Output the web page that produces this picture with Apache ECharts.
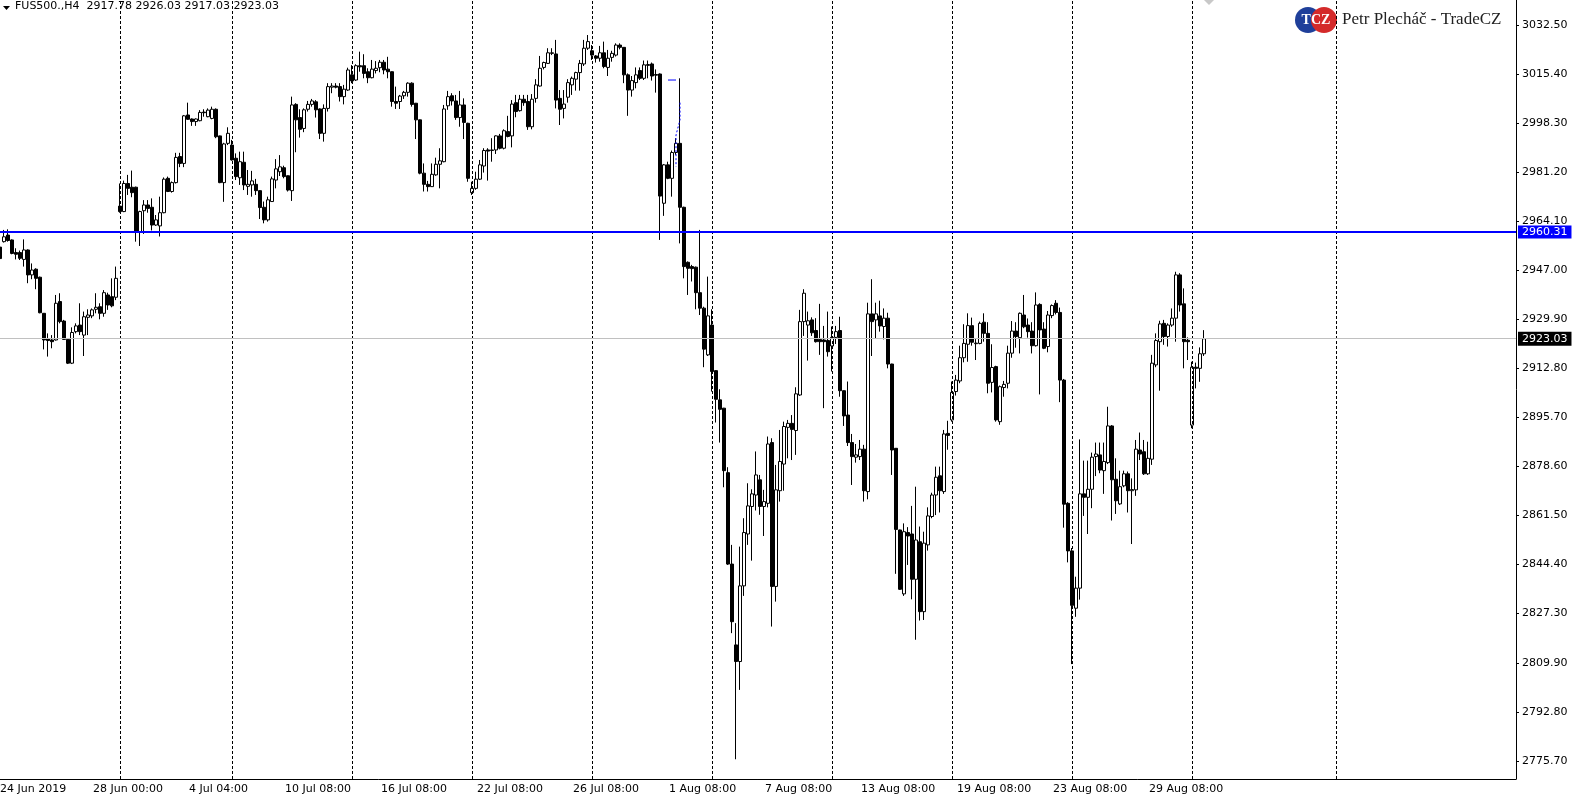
<!DOCTYPE html>
<html><head><meta charset="utf-8">
<script src="https://cdn.jsdelivr.net/npm/echarts@6/dist/echarts.min.js"></script>
<style>html,body{margin:0;padding:0;background:#fff;overflow:hidden}#c{width:1579px;height:803px}</style>
</head><body><div id="c"></div>
<script>
// ---- data (FUS500., H4) ----
const open = [
2955.0,2956.9,2959.2,2957.5,2953.1,2953.1,2950.7,2954.0,2945.3,2947.3,
2944.5,2931.9,2923.0,2922.6,2922.6,2936.0,2929.2,2922.8,2914.5,2925.5,
2927.8,2924.3,2930.5,2931.0,2933.3,2934.2,2931.9,2938.3,2937.7,2937.5,
2969.3,2967.4,2977.2,2975.9,2975.9,2960.4,2967.7,2969.7,2968.9,2962.7,
2962.4,2967.0,2979.0,2974.4,2977.5,2986.6,2984.2,3001.1,2999.7,2998.8,
2999.1,3002.1,3000.5,2999.9,3003.1,2993.8,2977.5,2991.2,2990.6,2986.0,
2979.2,2984.6,2976.2,2976.7,2976.9,2974.7,2968.9,2964.5,2970.9,2978.4,
2981.3,2982.7,2979.9,2974.7,3004.8,3000.2,2996.4,3003.1,3004.8,3005.7,
3003.2,2994.7,3003.4,3010.8,3011.2,3011.0,3007.5,3009.8,3015.1,3013.3,
3018.3,3018.3,3016.2,3014.1,3016.6,3017.6,3019.5,3017.1,3016.2,3005.8,
3005.8,3007.8,3009.0,3012.2,3005.2,2999.4,2980.8,2976.9,2976.1,2980.2,
2983.9,2984.8,3004.3,3007.8,3006.0,3000.2,3004.6,2998.2,2974.0,2975.5,
2978.7,2983.3,2988.9,2988.7,2988.9,2993.8,2989.5,2995.3,2993.8,3005.4,
3002.6,3006.6,3005.8,2997.0,3006.9,3011.2,3017.7,3019.1,3022.6,3022.4,
3006.9,3003.4,3007.3,3011.6,3013.6,3015.9,3018.9,3024.4,3023.5,3021.7,
3020.9,3022.8,3017.7,3021.2,3022.0,3025.5,3024.7,3015.1,3009.8,3012.4,
3016.6,3013.9,3018.4,3018.9,3015.2,3015.4,2970.3,2983.7,2979.0,2988.0,
2991.2,2968.9,2949.7,2948.2,2948.0,2939.1,2933.7,2917.4,2927.8,2911.9,
2901.7,2898.8,2876.3,2844.4,2816.2,2810.4,2836.8,2854.9,2864.5,2868.5,
2873.8,2864.5,2865.6,2886.8,2836.6,2870.0,2879.3,2892.1,2893.5,2891.0,
2903.4,2929.0,2927.8,2929.6,2925.9,2922.8,2922.6,2922.4,2920.5,2923.5,
2925.9,2904.9,2896.4,2886.8,2881.7,2881.9,2884.5,2869.7,2931.7,2929.6,
2931.0,2927.3,2930.2,2914.2,2884.8,2856.3,2834.0,2855.4,2854.9,2839.1,
2852.2,2827.8,2851.1,2861.0,2868.5,2875.2,2869.7,2890.0,2894.7,2904.6,
2908.3,2916.4,2921.1,2927.6,2921.3,2921.4,2928.8,2924.9,2907.8,2913.3,
2894.1,2906.0,2907.5,2918.0,2925.7,2923.4,2931.3,2927.8,2925.7,2920.6,
2935.0,2926.4,2920.3,2931.1,2935.4,2932.2,2908.6,2865.6,2849.0,2829.0,
2836.0,2868.9,2867.7,2870.5,2881.9,2882.5,2877.0,2879.8,2892.6,2874.0,
2865.4,2871.7,2875.9,2870.0,2870.3,2884.2,2883.6,2875.9,2881.0,2913.9,
2922.0,2928.4,2923.8,2927.8,2930.2,2945.3,2935.2,2922.5,2892.9,2913.1,
2912.7,2917.78
];
const high = [
2956.3,2961.0,2961.2,2957.7,2954.6,2953.8,2957.7,2954.2,2949.3,2947.6,
2944.7,2932.0,2924.9,2924.3,2938.3,2938.9,2929.6,2922.9,2927.0,2928.4,
2935.4,2932.5,2933.3,2933.6,2938.9,2935.4,2940.0,2939.1,2944.1,2948.2,
2977.2,2978.2,2980.2,2981.7,2976.1,2967.7,2971.4,2971.4,2972.0,2966.2,
2972.6,2979.3,2979.6,2977.9,2987.9,2987.9,3001.1,3005.4,2999.9,2999.9,
3002.8,3003.1,3003.4,3004.0,3003.4,2993.9,2991.4,2996.8,2992.4,2987.7,
2988.3,2988.3,2981.9,2981.6,2978.8,2974.8,2970.9,2972.6,2979.6,2985.7,
2987.1,2983.4,2980.0,3007.5,3005.2,3003.1,3003.4,3006.0,3006.7,3006.3,
3003.4,3004.8,3012.2,3012.2,3012.2,3012.2,3011.6,3017.6,3018.5,3018.8,
3023.2,3022.3,3017.4,3020.3,3019.9,3020.3,3020.3,3021.4,3016.3,3011.0,
3008.1,3009.5,3012.5,3012.5,3005.3,2999.5,2984.2,2978.1,2984.2,2986.2,
2989.5,3004.6,3009.5,3008.7,3008.1,3009.5,3006.9,2998.4,2977.8,2981.3,
2985.4,2989.5,2989.5,2993.0,2994.0,2994.5,2996.1,3000.8,3006.3,3008.1,
3008.1,3008.1,3008.1,3008.4,3013.6,3021.7,3019.7,3024.4,3024.4,3027.3,
3009.8,3009.8,3013.6,3014.5,3016.2,3020.3,3027.3,3029.0,3025.5,3022.0,
3025.2,3026.7,3023.8,3023.5,3026.1,3026.1,3024.8,3015.6,3014.7,3017.7,
3017.7,3020.1,3020.1,3019.4,3017.0,3015.6,2984.0,2984.8,2988.7,2993.0,
3013.9,2969.1,2950.0,2948.8,2948.2,2961.0,2934.2,2944.7,2933.3,2912.0,
2905.4,2898.9,2878.2,2851.1,2823.8,2850.5,2860.4,2872.6,2870.5,2883.7,
2875.5,2870.3,2888.9,2888.3,2879.0,2891.2,2894.1,2894.7,2896.4,2906.1,
2933.1,2940.3,2932.5,2930.5,2930.2,2935.2,2927.5,2932.5,2927.3,2927.5,
2930.7,2905.0,2908.1,2889.8,2886.3,2887.7,2886.0,2935.6,2943.8,2935.6,
2936.3,2933.6,2932.1,2914.3,2884.9,2856.4,2858.6,2857.3,2864.7,2871.4,
2857.5,2855.7,2864.2,2869.3,2878.4,2878.4,2891.2,2894.4,2908.1,2910.4,
2920.6,2928.1,2931.9,2930.4,2922.9,2929.0,2931.9,2928.8,2921.1,2913.6,
2906.7,2908.3,2920.6,2929.2,2928.8,2932.2,2938.3,2930.1,2928.8,2939.2,
2935.4,2928.8,2932.7,2935.0,2936.5,2933.9,2909.0,2866.0,2850.0,2840.0,
2887.9,2880.5,2880.5,2883.3,2886.8,2886.8,2886.8,2899.3,2892.9,2881.3,
2877.0,2877.0,2876.7,2874.3,2887.7,2890.3,2887.7,2887.1,2917.4,2924.9,
2929.3,2929.6,2928.4,2933.6,2946.4,2945.9,2940.6,2923.5,2915.0,2914.7,
2920.0,2926.03
];
const low = [
2947.6,2956.6,2956.9,2952.5,2950.7,2950.5,2948.2,2942.4,2943.8,2940.3,
2931.9,2919.3,2916.8,2919.7,2922.4,2928.4,2922.6,2914.2,2914.2,2924.9,
2924.3,2917.0,2924.3,2930.2,2931.9,2929.8,2930.7,2933.1,2934.0,2936.5,
2967.0,2967.2,2973.2,2972.4,2956.9,2955.4,2959.6,2967.0,2960.8,2962.4,
2958.7,2966.8,2974.2,2974.0,2977.2,2982.9,2982.9,2999.4,2997.3,2997.3,
2998.9,3000.5,3000.3,2999.6,2993.0,2977.3,2970.8,2990.6,2985.2,2978.4,
2976.7,2974.9,2973.2,2972.6,2973.2,2964.8,2963.3,2963.9,2970.8,2975.5,
2979.8,2979.0,2974.4,2971.1,2988.1,2993.2,2995.1,3002.3,3004.0,3000.2,
2992.7,2991.8,3002.3,3008.7,3010.4,3005.8,3004.8,3009.5,3012.2,3013.0,
3016.2,3013.9,3012.2,3013.9,3015.6,3016.0,3015.3,3013.9,3004.0,3003.2,
3003.2,3006.7,3007.5,3004.0,2992.7,2980.4,2974.4,2974.4,2976.0,2979.9,
2975.5,2984.6,3002.9,3004.4,2999.4,2997.0,2992.7,2977.8,2973.2,2975.0,
2978.4,2981.0,2978.2,2984.8,2987.5,2989.1,2989.1,2993.3,2989.8,3000.3,
3002.3,3004.3,2995.9,2996.1,3005.4,3011.0,3017.0,3018.9,3022.0,3003.4,
2997.6,2999.9,3005.4,3008.1,3009.6,3009.6,3018.2,3023.8,3020.3,3019.4,
3019.7,3017.4,3014.7,3019.7,3021.5,3024.0,3012.2,3000.8,3007.5,3010.4,
3013.3,3013.3,3013.9,3013.1,3008.9,2957.5,2965.9,2978.7,2972.6,2987.2,
2956.3,2944.1,2938.3,2943.0,2933.3,2931.3,2913.1,2917.0,2904.6,2893.8,
2886.8,2871.2,2844.1,2820.3,2776.3,2800.5,2833.3,2851.1,2845.6,2863.1,
2861.6,2854.2,2864.2,2822.6,2831.3,2866.2,2870.0,2881.3,2880.7,2882.5,
2903.1,2924.0,2915.4,2924.0,2921.7,2917.4,2898.8,2916.8,2911.6,2921.2,
2902.8,2892.6,2885.6,2872.0,2879.8,2880.7,2866.2,2867.0,2917.0,2923.2,
2925.5,2922.8,2912.7,2875.5,2841.0,2835.4,2833.3,2844.1,2832.1,2818.0,
2824.7,2824.9,2849.1,2860.4,2861.5,2862.4,2868.9,2884.3,2894.1,2903.2,
2907.5,2914.8,2915.0,2920.6,2915.6,2921.1,2922.0,2904.0,2904.3,2894.1,
2893.0,2902.8,2905.7,2916.4,2919.9,2917.9,2926.7,2923.4,2917.9,2920.3,
2903.6,2919.4,2918.3,2930.2,2931.5,2900.9,2857.1,2845.0,2809.5,2826.0,
2832.0,2861.2,2854.9,2863.9,2875.1,2876.1,2868.9,2879.3,2859.6,2861.9,
2865.0,2871.2,2862.4,2851.4,2868.2,2880.7,2875.5,2875.5,2879.0,2913.1,
2904.9,2920.9,2920.3,2927.2,2922.0,2932.5,2912.7,2915.6,2891.8,2905.7,
2908.0,2917.03
];
const close = [
2951.0,2958.6,2957.3,2952.8,2952.5,2951.1,2954.0,2945.3,2947.0,2944.1,
2932.1,2922.6,2922.4,2922.0,2935.4,2929.0,2922.8,2914.5,2925.2,2927.5,
2925.5,2930.7,2931.3,2933.1,2934.0,2931.9,2939.1,2934.8,2934.5,2944.1,
2967.4,2977.2,2975.5,2974.0,2960.4,2967.4,2969.7,2968.5,2962.7,2964.5,
2967.0,2978.7,2974.4,2977.5,2986.3,2984.2,3000.8,2999.6,2998.8,2999.7,
3002.0,3001.9,3002.8,3003.1,2993.5,2977.5,2991.0,2994.7,2985.4,2979.6,
2984.8,2976.7,2976.9,2978.1,2974.7,2968.8,2964.5,2971.5,2978.8,2982.3,
2983.0,2979.6,2974.9,3004.6,2999.4,2996.1,3002.9,3004.8,3006.0,3002.9,
2994.7,3003.4,3011.0,3011.2,3010.8,3007.5,3010.1,3016.8,3013.0,3018.3,
3017.9,3015.6,3014.1,3017.1,3017.4,3019.5,3016.8,3016.2,3005.8,3005.2,
3007.7,3009.0,3012.2,3004.8,2999.4,2980.8,2976.9,2976.1,2980.4,2983.9,
2985.1,3003.2,3007.5,3006.0,3000.2,3004.6,2998.5,2979.0,2975.5,2978.7,
2983.7,2988.7,2988.5,2988.9,2993.8,2989.5,2995.6,2993.6,3004.9,3002.3,
3006.6,3005.4,2997.0,3006.6,3011.6,3017.4,3019.4,3022.8,3022.8,3006.3,
3003.1,3004.9,3012.4,3013.9,3015.9,3019.1,3024.4,3026.7,3022.0,3020.9,
3022.8,3018.0,3020.9,3022.6,3025.5,3024.7,3015.1,3009.8,3013.1,3015.1,
3013.9,3018.6,3018.7,3014.7,3015.0,2972.8,2983.7,2979.0,2988.0,2991.2,
2968.9,2948.2,2947.6,2947.5,2939.1,2933.7,2919.4,2931.0,2911.6,2901.9,
2898.4,2877.0,2844.4,2824.3,2810.4,2836.8,2855.4,2864.7,2868.9,2875.5,
2864.5,2866.2,2886.3,2836.6,2870.3,2880.2,2892.4,2893.5,2891.4,2903.8,
2929.0,2938.9,2929.3,2925.1,2922.0,2922.0,2922.0,2918.5,2923.5,2925.5,
2904.9,2896.1,2886.8,2881.9,2882.5,2884.5,2870.0,2931.7,2929.0,2931.7,
2927.5,2930.2,2914.2,2884.2,2856.5,2835.6,2855.7,2854.2,2839.1,2852.8,
2827.8,2851.7,2861.2,2868.5,2874.7,2870.0,2889.8,2889.3,2904.3,2908.6,
2916.4,2921.4,2927.6,2921.8,2921.5,2928.4,2924.9,2907.5,2913.0,2894.7,
2906.3,2907.1,2918.0,2925.7,2923.8,2931.9,2927.2,2925.5,2920.6,2934.8,
2926.1,2919.7,2931.3,2934.6,2932.2,2908.6,2865.3,2849.0,2830.0,2836.0,
2868.9,2867.7,2870.5,2881.7,2882.8,2877.2,2880.2,2892.6,2873.8,2866.5,
2871.4,2875.9,2870.0,2870.4,2884.5,2882.8,2875.9,2881.3,2914.5,2922.4,
2928.2,2923.8,2927.8,2930.2,2945.3,2934.8,2922.0,2922.0,2913.1,2912.7,
2917.78,2923.03
];
const timeLabels = ['24 Jun 2019','28 Jun 00:00','4 Jul 04:00','10 Jul 08:00','16 Jul 08:00','22 Jul 08:00','26 Jul 08:00','1 Aug 08:00','7 Aug 08:00','13 Aug 08:00','19 Aug 08:00','23 Aug 08:00','29 Aug 08:00'];
const barsPerLabel = 24;
const priceTicks = [3032.50,3015.40,2998.30,2981.20,2964.10,2947.00,2929.90,2912.80,2895.70,2878.60,2861.50,2844.40,2827.30,2809.90,2792.80,2775.70];
const gridBars = [30,58,88,118,148,178,208,238,268,298,334];
const levelPrice = 2960.31;
const lastPrice = 2923.03;
const objDash = [[167.25,3013.3],[168.9,3013.3]];
const objDotted = [[169.9,3005.4],[169.75,2999.4],[169.1,2994.1],[168.5,2983.1]];
const totalSlots = 380;

// ---- build ----
const cats = Array.from({length: totalSlots}, (_, i) => String(i));
const candles = open.map((o, i) => [o, close[i], Math.min(low[i], o, close[i]), Math.max(high[i], o, close[i])]);
const FONT = 'DejaVu Sans';
const labelShown = (i) => i % barsPerLabel === 0 && i / barsPerLabel < timeLabels.length;
const Y_MIN = 2769.41, Y_MAX = 3041.22;
const STEP = 4;

const chart = echarts.init(document.getElementById('c'), null, {renderer: 'canvas'});
chart.setOption({
  animation: false,
  backgroundColor: '#ffffff',
  grid: {left: 0, top: 0, width: (totalSlots - 1) * STEP, height: 779, containLabel: false, outerBoundsMode: 'none'},
  xAxis: {
    type: 'category', data: cats, boundaryGap: false,
    axisLine: {show: true, lineStyle: {color: '#000', width: 1}},
    axisTick: {show: false},
    axisLabel: {
      show: true, interval: labelShown,
      formatter: (v, i) => {
        const k = Math.round(i / barsPerLabel);
        const t = timeLabels[k] || '';
        return k === 0 ? '{first|' + t + '}' : t;
      },
      rich: {first: {padding: [0, 0, 0, 3], color: '#000', fontFamily: FONT, fontSize: 11}},
      align: 'left', margin: 5, padding: [0, 0, 0, -3], color: '#000', fontFamily: FONT, fontSize: 11
    },
    splitLine: {show: false}
  },
  yAxis: {
    type: 'value', position: 'right', min: Y_MIN, max: Y_MAX, scale: true,
    axisLine: {show: true, lineStyle: {color: '#000', width: 1}},
    axisTick: {show: true, length: 3, customValues: priceTicks, lineStyle: {color: '#000'}},
    axisLabel: {show: true, customValues: priceTicks, formatter: (v) => v.toFixed(2), margin: 6, color: '#000', fontFamily: FONT, fontSize: 11},
    splitLine: {show: false}
  },
  series: [
    {
      type: 'line', data: [], silent: true, z: 1,
      markLine: {
        silent: true, symbol: ['none', 'none'], animation: false,
        label: {show: false},
        lineStyle: {color: '#000', type: [3, 2], width: 1},
        data: gridBars.map(i => ({xAxis: String(i)}))
      }
    },
    {
      type: 'candlestick', data: candles, barWidth: 3, z: 3, silent: true,
      itemStyle: {color: '#ffffff', color0: '#000000', borderColor: '#000000', borderColor0: '#000000', borderWidth: 1},
      emphasis: {disabled: true},
      markLine: {
        silent: true, symbol: ['none', 'none'], animation: false,
        data: [
          {yAxis: lastPrice, lineStyle: {color: '#c0c0c0', width: 1, type: 'solid'},
           label: {show: true, position: 'end', distance: 2, formatter: lastPrice.toFixed(2), color: '#fff', backgroundColor: '#000', padding: [2, 4, 1, 4], fontFamily: FONT, fontSize: 11}},
          {yAxis: levelPrice, lineStyle: {color: '#0000ff', width: 2, type: 'solid'},
           label: {show: true, position: 'end', distance: 2, formatter: levelPrice.toFixed(2), color: '#fff', backgroundColor: '#0000ff', padding: [1, 4, 1, 4], fontFamily: FONT, fontSize: 11}}
        ]
      }
    },
    {type: 'line', data: objDash, symbol: 'none', silent: true, z: 4, lineStyle: {color: '#0000ff', width: 1}},
    {type: 'line', data: objDotted, symbol: 'none', silent: true, z: 4, lineStyle: {color: '#0000ff', width: 1, type: [2, 2]}}
  ],
  graphic: [
    {type: 'polygon', left: 3, top: 6, shape: {points: [[0,0],[7,0],[3.5,4]]}, style: {fill: '#000'}},
    {type: 'text', left: 15, top: 1, style: {text: 'FUS500.,H4  2917.78 2926.03 2917.03 2923.03', fill: '#000', font: '11px "DejaVu Sans"'}},
    {type: 'polygon', shape: {points: [[1204,0],[1214,0],[1209,5]]}, style: {fill: '#c8c8c8'}},
    {type: 'circle', shape: {cx: 1308, cy: 20, r: 13}, style: {fill: '#1f3f9a'}},
    {type: 'circle', shape: {cx: 1324, cy: 20, r: 13}, style: {fill: '#d42a2a'}},
    {type: 'text', x: 1316, y: 20, style: {text: 'TCZ', fill: '#fff', font: 'bold 14px "Liberation Serif"', align: 'center', verticalAlign: 'middle'}},
    {type: 'text', x: 1342, y: 20, style: {text: 'Petr Plecháč - TradeCZ', fill: '#222', font: '17px "Liberation Serif"', align: 'left', verticalAlign: 'middle'}}
  ]
});
</script></body></html>
